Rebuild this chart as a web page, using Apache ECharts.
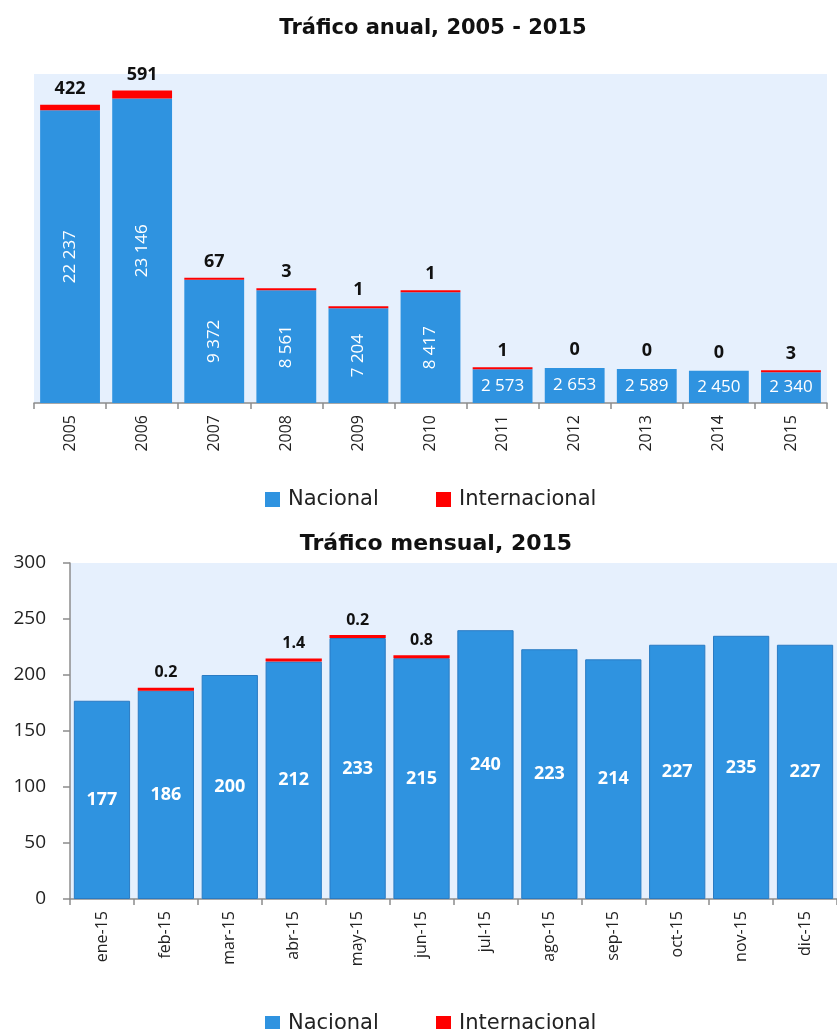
<!DOCTYPE html>
<html><head><meta charset="utf-8">
<script src="https://cdn.jsdelivr.net/npm/echarts@6/dist/echarts.min.js"></script>
<style>html,body{margin:0;padding:0;background:#fff}#c{width:837px;height:1029px}</style>
</head><body><div id="c"></div>
<script>
const years = ['2005','2006','2007','2008','2009','2010','2011','2012','2013','2014','2015'];
const annualNacional = [22237,23146,9372,8561,7204,8417,2573,2653,2589,2450,2340];
const annualInternacional = [422,591,67,3,1,1,1,0,0,0,3];
const months = ['ene-15','feb-15','mar-15','abr-15','may-15','jun-15','jul-15','ago-15','sep-15','oct-15','nov-15','dic-15'];
const monthlyNacional = [177,186,200,212,233,215,240,223,214,227,235,227];
const monthlyInternacional = [null,0.2,null,1.4,0.2,0.8,null,null,null,null,null,null];
const seriesNames = ['Nacional', 'Internacional'];

const FONT = '"Open Sans", sans-serif';
const WFONT = '"DejaVu Sans", sans-serif';
const BLUE = '#2F93E0';
const RED = '#FF0000';
const BG = '#E6F0FD';
const AX = '#8C8C8C';
const fmt = v => String(v).replace(/\B(?=(\d{3})+(?!\d))/g, ' ');

const chart = echarts.init(document.getElementById('c'), null, {renderer: 'canvas'});

const topNacData = annualNacional.map((v, i) => i >= 6
  ? {value: v, label: {rotate: 0}}
  : {value: v});
const topIntData = annualInternacional.map(v => v === 0
  ? {value: v, itemStyle: {color: 'rgba(0,0,0,0)'}}
  : {value: v});

const legendItem = (name, left, top) => ({
  data: [name], left: left, top: top, padding: 0, itemWidth: 15, itemHeight: 15, icon: 'rect',
  textStyle: {fontSize: 21, color: '#222', fontFamily: WFONT, padding: [0, 0, 0, 3]}
});

const option = {
  animation: false,
  textStyle: {fontFamily: FONT},
  title: [
    {text: 'Tráfico anual, 2005 - 2015', left: 428, top: 13, textAlign: 'center',
     textStyle: {fontSize: 21, fontWeight: 'bold', color: '#111', fontFamily: WFONT}},
    {text: 'Tráfico mensual, 2015', left: 431, top: 528, textAlign: 'center',
     textStyle: {fontSize: 22, fontWeight: 'bold', color: '#111', fontFamily: WFONT}}
  ],
  legend: [
    legendItem(seriesNames[0], 265, 489),
    legendItem(seriesNames[1], 436, 489),
    legendItem(seriesNames[0], 265, 1013),
    legendItem(seriesNames[1], 436, 1013)
  ],
  grid: [
    {left: 34, top: 74, width: 793, height: 329, show: true, backgroundColor: BG, borderWidth: 0},
    {left: 70, top: 563, width: 776, height: 336, show: true, backgroundColor: BG, borderWidth: 0}
  ],
  xAxis: [
    {type: 'category', gridIndex: 0, data: years,
     axisLine: {lineStyle: {color: AX, width: 1.5}},
     axisTick: {show: true, length: 6, lineStyle: {color: AX, width: 1.5}},
     axisLabel: {rotate: 90, fontSize: 16, color: '#222', margin: 12, fontFamily: FONT}},
    {type: 'category', gridIndex: 1, data: months,
     axisLine: {lineStyle: {color: AX, width: 1.5}},
     axisTick: {show: true, length: 6, lineStyle: {color: AX, width: 1.5}},
     axisLabel: {rotate: 90, fontSize: 16, color: '#222', margin: 12, fontFamily: FONT}}
  ],
  yAxis: [
    {type: 'value', gridIndex: 0, min: 0, max: 25000, show: false, splitLine: {show: false}},
    {type: 'value', gridIndex: 1, min: 0, max: 300, interval: 50,
     axisLine: {show: true, lineStyle: {color: AX, width: 1.5}},
     axisTick: {show: true, length: 7, lineStyle: {color: AX, width: 1.5}},
     splitLine: {show: false},
     axisLabel: {fontSize: 19, color: '#222', margin: 24, fontFamily: FONT}}
  ],
  series: [
    {name: seriesNames[0], type: 'bar', xAxisIndex: 0, yAxisIndex: 0, stack: 'a',
     barCategoryGap: '17%', data: topNacData,
     itemStyle: {color: BLUE},
     label: {show: true, position: 'inside', rotate: 90, color: '#fff', fontSize: 17,
             fontFamily: FONT, formatter: p => fmt(p.value)}},
    {name: seriesNames[1], type: 'bar', xAxisIndex: 0, yAxisIndex: 0, stack: 'a',
     barMinHeight: 2, data: topIntData,
     itemStyle: {color: RED},
     label: {show: true, position: 'top', distance: 7, color: '#111', fontSize: 18,
             fontWeight: 'bold', fontFamily: FONT, formatter: p => fmt(p.value)}},
    {name: seriesNames[0], type: 'bar', xAxisIndex: 1, yAxisIndex: 1, stack: 'b',
     barCategoryGap: '12%', data: monthlyNacional,
     itemStyle: {color: BLUE, borderColor: '#2A7BC3', borderWidth: 1},
     label: {show: true, position: 'inside', color: '#fff', fontSize: 18, fontWeight: 'bold',
             fontFamily: FONT}},
    {name: seriesNames[1], type: 'bar', xAxisIndex: 1, yAxisIndex: 1, stack: 'b',
     barMinHeight: 3, data: monthlyInternacional,
     itemStyle: {color: RED},
     label: {show: true, position: 'top', distance: 7, color: '#111', fontSize: 16,
             fontWeight: 'bold', fontFamily: FONT,
             formatter: p => (p.value == null ? '' : p.value.toFixed(1))}}
  ]
};
chart.setOption(option);
</script>
</body></html>
